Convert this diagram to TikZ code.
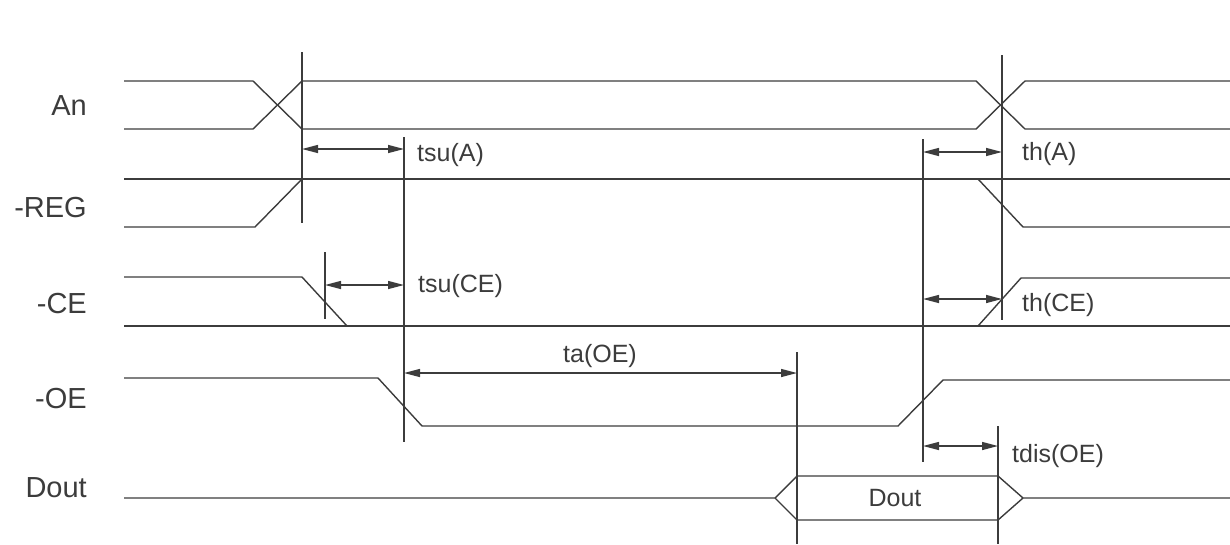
\documentclass[tikz,border=0pt]{standalone}
\usepackage{fontspec}
\setmainfont{Liberation Sans}
\usetikzlibrary{arrows.meta}
\definecolor{ink}{RGB}{60,60,60}
\begin{document}
\begin{tikzpicture}[x=1pt,y=-1pt,
  sig/.style={draw=ink,line width=1.4pt,line join=miter},
  markline/.style={draw=ink,line width=1.4pt},
  dim/.style={draw=ink,line width=1.4pt,{Triangle[length=16pt,width=8pt]}-{Triangle[length=16pt,width=8pt]}},
  siglabel/.style={anchor=base east,inner sep=0pt,text=ink,font=\fontsize{29}{33}\selectfont},
  tlabel/.style={anchor=base west,inner sep=0pt,text=ink,font=\fontsize{25}{29}\selectfont}]
\useasboundingbox (0,0) rectangle (1230,544);
% signal names
\node[siglabel] (lAn) at (87,115) {An};
\node[siglabel] (lREG) at (87,217) {-REG};
\node[siglabel] (lCE) at (87,313) {-CE};
\node[siglabel] (lOE) at (87,408) {-OE};
\node[siglabel] (lDout) at (87,497) {Dout};
% An
\draw[sig] (124,81) -- (253,81) -- (302,129) -- (976,129) -- (1025,81) -- (1230,81);
\draw[sig] (124,129) -- (253,129) -- (302,81) -- (976,81) -- (1025,129) -- (1230,129);
% -REG
\draw[sig] (124,179) -- (1230,179);
\draw[sig] (124,227) -- (255,227) -- (302,179);
\draw[sig] (978,179) -- (1023,227) -- (1230,227);
% -CE
\draw[sig] (124,277) -- (302,277) -- (347,326);
\draw[sig] (124,326) -- (1230,326);
\draw[sig] (978,326) -- (1021,278) -- (1230,278);
% -OE
\draw[sig] (124,378) -- (378,378) -- (422,426) -- (898,426) -- (943,380) -- (1230,380);
% Dout
\draw[sig] (124,498) -- (775,498) -- (797,476) -- (998,476) -- (1023,498) -- (1230,498);
\draw[sig] (775,498) -- (797,520) -- (998,520) -- (1023,498);
\node[inner sep=0pt,anchor=base,text=ink,font=\fontsize{25}{29}\selectfont] (dbox) at (895,506) {Dout};
% marker lines
\coordinate (m1t) at (302,52);  \coordinate (m1b) at (302,223);
\coordinate (m2t) at (404,137); \coordinate (m2b) at (404,442);
\coordinate (m3t) at (325,252); \coordinate (m3b) at (325,319);
\coordinate (m4t) at (797,352); \coordinate (m4b) at (797,544);
\coordinate (m5t) at (923,139); \coordinate (m5b) at (923,462);
\coordinate (m6t) at (1002,55); \coordinate (m6b) at (1002,320);
\coordinate (m7t) at (998,426); \coordinate (m7b) at (998,544);
\foreach \m in {1,...,7} \draw[markline] (m\m t) -- (m\m b);
% dimension arrows
\draw[dim] (m1t |- 0,149) -- (m2t |- 0,149);
\node[tlabel] (tsuA) at (417,161) {tsu(A)};
\draw[dim] (m3t |- 0,285) -- (m2t |- 0,285);
\node[tlabel] (tsuCE) at (418,292) {tsu(CE)};
\draw[dim] (m2t |- 0,373) -- (m4t |- 0,373);
\node[anchor=base,inner sep=0pt,text=ink,font=\fontsize{25}{29}\selectfont] (taOE) at (600,362) {ta(OE)};
\draw[dim] (m5t |- 0,152) -- (m6t |- 0,152);
\node[tlabel] (thA) at (1022,160) {th(A)};
\draw[dim] (m5t |- 0,299) -- (m6t |- 0,299);
\node[tlabel] (thCE) at (1022,311) {th(CE)};
\draw[dim] (m5t |- 0,446) -- (m7t |- 0,446);
\node[tlabel] (tdis) at (1012,462) {tdis(OE)};
\end{tikzpicture}
\end{document}
